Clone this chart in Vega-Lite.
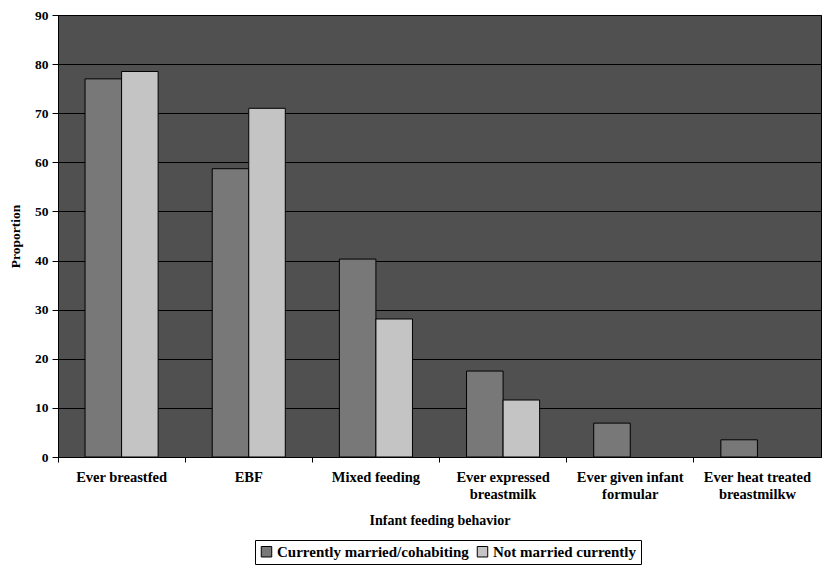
{
  "$schema": "https://vega.github.io/schema/vega-lite/v6.json",
  "autosize": "none",
  "width": 763,
  "height": 442,
  "padding": {"left": 58, "top": 15, "right": 4, "bottom": 112},
  "background": "white",
  "view": {"fill": "#505050", "stroke": "black", "strokeWidth": 1},
  "data": {
    "values": [
      {"behavior": "Ever breastfed", "status": "Currently married/cohabiting", "proportion": 77},
      {"behavior": "Ever breastfed", "status": "Not married currently", "proportion": 78.5},
      {"behavior": "EBF", "status": "Currently married/cohabiting", "proportion": 58.7},
      {"behavior": "EBF", "status": "Not married currently", "proportion": 71},
      {"behavior": "Mixed feeding", "status": "Currently married/cohabiting", "proportion": 40.3},
      {"behavior": "Mixed feeding", "status": "Not married currently", "proportion": 28.1},
      {"behavior": "Ever expressed\nbreastmilk", "status": "Currently married/cohabiting", "proportion": 17.5},
      {"behavior": "Ever expressed\nbreastmilk", "status": "Not married currently", "proportion": 11.6},
      {"behavior": "Ever given infant\nformular", "status": "Currently married/cohabiting", "proportion": 6.9},
      {"behavior": "Ever heat treated\nbreastmilkw", "status": "Currently married/cohabiting", "proportion": 3.5}
    ]
  },
  "mark": {"type": "bar", "stroke": "black", "strokeWidth": 1},
  "encoding": {
    "x": {
      "field": "behavior",
      "type": "nominal",
      "sort": ["Ever breastfed", "EBF", "Mixed feeding", "Ever expressed\nbreastmilk", "Ever given infant\nformular", "Ever heat treated\nbreastmilkw"],
      "scale": {"paddingInner": 0, "paddingOuter": 0},
      "axis": {
        "title": "Infant feeding behavior",
        "labelAngle": 0,
        "labelExpr": "split(datum.label, '\\n')",
        "labelLineHeight": 17,
        "labelPadding": 8,
        "bandPosition": 0,
        "tickSize": 5,
        "tickColor": "black",
        "domainColor": "black",
        "titlePadding": 13,
        "labelFontSize": 14.5,
        "titleFontSize": 14,
        "labelAlign": "center",
        "labelLimit": 200
      }
    },
    "xOffset": {
      "field": "status",
      "type": "nominal",
      "scale": {"paddingInner": 0, "paddingOuter": 0.74}
    },
    "y": {
      "field": "proportion",
      "type": "quantitative",
      "scale": {"domain": [0, 90]},
      "axis": {
        "title": "Proportion",
        "values": [0, 10, 20, 30, 40, 50, 60, 70, 80, 90],
        "grid": true,
        "gridColor": "black",
        "gridOpacity": 1,
        "gridWidth": 1.2,
        "tickColor": "black",
        "tickSize": 6,
        "domainColor": "black",
        "labelFontSize": 13.5,
        "titleFontSize": 13.5,
        "labelPadding": 4,
        "titlePadding": 12
      }
    },
    "fill": {
      "field": "status",
      "type": "nominal",
      "scale": {"domain": ["Currently married/cohabiting", "Not married currently"], "range": ["#787878", "#c4c4c4"]},
      "legend": {
        "title": null,
        "orient": "none",
        "legendX": 197,
        "legendY": 525,
        "direction": "horizontal",
        "strokeColor": "black",
        "padding": 4,
        "symbolType": "square",
        "symbolSize": 110,
        "symbolStrokeColor": "black",
        "symbolStrokeWidth": 1,
        "labelFontSize": 15,
        "labelLimit": 300,
        "columnPadding": 6,
        "labelOffset": 3
      }
    }
  },
  "config": {
    "font": "Liberation Serif",
    "axis": {"labelFont": "Liberation Serif", "titleFont": "Liberation Serif", "labelFontWeight": "bold", "titleFontWeight": "bold", "labelColor": "black", "titleColor": "black"},
    "legend": {"labelFont": "Liberation Serif", "labelFontWeight": "bold", "labelColor": "black"}
  }
}
